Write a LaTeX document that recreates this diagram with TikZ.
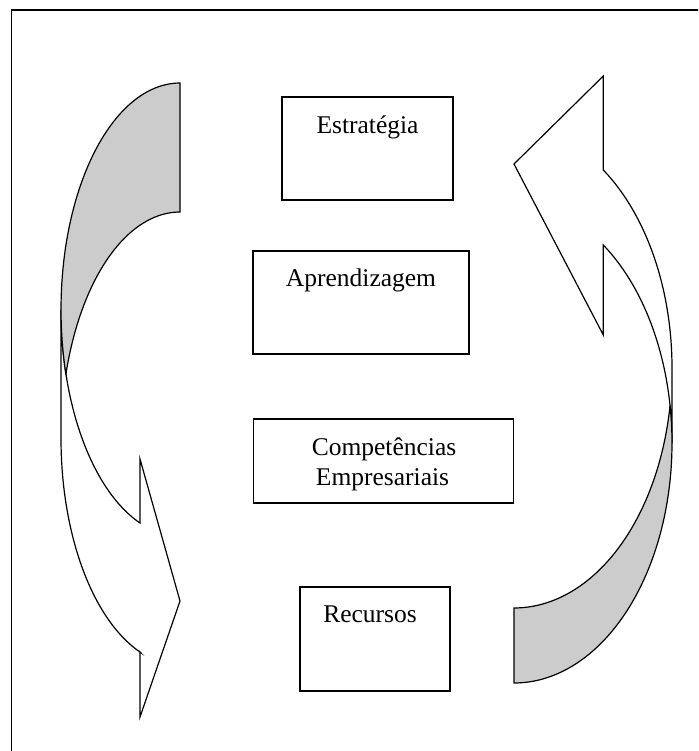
\documentclass[tikz,border=0pt]{standalone}
\usepackage{fontspec}
\setmainfont{Liberation Serif}
\begin{document}
\begin{tikzpicture}[x=1pt,y=-1pt,
  boxnode/.style={draw=black,line width=1.3pt,inner sep=0pt,fill=white},
  lbl/.style={anchor=base,inner sep=0pt,font=\fontsize{25.5}{30}\selectfont},
  frontface/.style={draw=black,line width=1.2pt,fill=white,line join=miter},
  backface/.style={draw=black,line width=1.2pt,fill=gray!40,line join=miter}]
\useasboundingbox (0,0) rectangle (698,751);
\clip (0,0) rectangle (698,751);
\fill[white] (0,0) rectangle (698,751);
% outer frame (right and bottom edges lie outside the picture)
\draw[line width=1.6pt] (11.5,10) rectangle (720,770);

% left curved arrow: front face
\filldraw[frontface] (61,309.6)
  -- plot[domain=180:109.64,samples=50,variable=\t] ({180+119*cos(\t)},{309.6+226.6*sin(\t)})
  -- (140,459) -- (180,601) -- (140,717) -- (140,652)
  -- plot[domain=109.64:180,samples=50,variable=\t] ({180+119*cos(\t)},{438.6+226.6*sin(\t)})
  -- cycle;
% left curved arrow: back face
\filldraw[backface]
  plot[domain=270:163.46,samples=60,variable=\t] ({180+119*cos(\t)},{309.6+226.6*sin(\t)})
  -- plot[domain=196.54:270,samples=50,variable=\t] ({180+119*cos(\t)},{438.6+226.6*sin(\t)})
  -- cycle;

% right curved arrow: front face
\filldraw[frontface] (672,443)
  -- plot[domain=0:-55.58,samples=50,variable=\t] ({514+158*cos(\t)},{443+240*sin(\t)})
  -- (603.3,335) -- (514,164) -- (603.3,76) -- (603.3,169)
  -- plot[domain=-55.58:0,samples=50,variable=\t] ({514+158*cos(\t)},{368+240*sin(\t)})
  -- cycle;
% right curved arrow: back face
\filldraw[backface]
  plot[domain=90:-8.99,samples=60,variable=\t] ({514+158*cos(\t)},{443+240*sin(\t)})
  -- plot[domain=8.99:90,samples=50,variable=\t] ({514+158*cos(\t)},{368+240*sin(\t)})
  -- cycle;

% boxes
\node[boxnode,minimum width=171pt,minimum height=103pt] (est) at (367.5,148.5) {};
\node[boxnode,minimum width=216pt,minimum height=103pt] (apr) at (361,302.5) {};
\node[boxnode,minimum width=260pt,minimum height=84pt] (comp) at (383.5,461) {};
\node[boxnode,minimum width=150pt,minimum height=104pt] (rec) at (375,639) {};

% labels
\node[lbl] (estL) at (367.5,133.3) {Estratégia};
\node[lbl] (aprL) at (361,286.7) {Aprendizagem};
\node[lbl] (compL1) at (384,455) {Competências};
\node[lbl] (compL2) at (382.5,485) {Empresariais};
\node[lbl] (recL) at (370,622.7) {Recursos};
\end{tikzpicture}
\end{document}
